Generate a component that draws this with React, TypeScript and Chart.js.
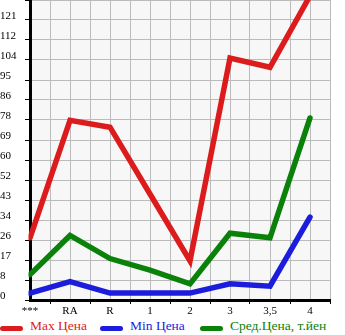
import React, { useEffect, useRef } from "react";
import { Chart, registerables } from "chart.js";

Chart.register(...registerables);

const categories = ["***", "RA", "R", "1", "2", "3", "3,5", "4"];
const maxPrice = [27, 78, 75, 46, 17, 105, 101, 132];
const minPrice = [3, 8, 3, 3, 3, 7, 6, 36];
const avgPrice = [11, 28, 18, 13, 7, 29, 27, 79];
const yTickLabels = ["0", "8", "17", "26", "34", "43", "52", "60", "69", "78", "86", "95", "104", "112", "121"];
const yStep = 8.68;
const seriesNames = ["Max Цена", "Min Цена", "Сред.Цена, т.йен"];
const seriesColors = ["#dc1c1c", "#1c1cdc", "#0a820a"];
const seriesValues = [maxPrice, minPrice, avgPrice];

const FONT = "'Liberation Serif', 'Times New Roman', serif";

const bgPlugin = {
  id: "bgPlugin",
  beforeDraw(chart: any) {
    const { ctx, chartArea: a } = chart;
    ctx.save();
    ctx.fillStyle = "#ffffff";
    ctx.fillRect(0, 0, chart.width, chart.height);
    ctx.fillStyle = "#f7f7f7";
    ctx.fillRect(a.left, a.top, a.right - a.left, a.bottom - a.top);
    ctx.restore();
  },
};

export default function App() {
  const canvasRef = useRef<HTMLCanvasElement | null>(null);

  useEffect(() => {
    document.body.style.margin = "0";
    const canvas = canvasRef.current;
    if (!canvas) return;
    const datasets = seriesValues.map((vals, si) => ({
      label: seriesNames[si],
      data: vals.map((v, i) => ({ x: i, y: v })),
      borderColor: seriesColors[si],
      backgroundColor: seriesColors[si],
      borderWidth: 5.5,
      borderCapStyle: "round" as const,
      pointRadius: 0,
      pointHoverRadius: 0,
      tension: 0,
      fill: false,
      clip: { left: 1.5, top: 0, right: 5, bottom: 5 },
    }));
    const chart = new Chart(canvas, {
      type: "line",
      data: { datasets: datasets.slice().reverse() as any },
      plugins: [bgPlugin],
      options: {
        animation: false,
        responsive: false,
        maintainAspectRatio: false,
        events: [],
        layout: { padding: { left: 0, right: 15, top: 0, bottom: 0 } },
        plugins: { legend: { display: false }, tooltip: { enabled: false } },
        scales: {
          x: {
            type: "linear",
            min: 0,
            max: categories.length - 0.5,
            afterBuildTicks: (s: any) => {
              const t: any[] = [];
              for (let i = 0; i < categories.length * 2; i++) t.push({ value: i / 2 });
              s.ticks = t;
            },
            afterFit: (s: any) => {
              s.height = 18;
              s.paddingLeft = 0;
              s.paddingRight = 0;
            },
            grid: {
              color: "#bbbbbb",
              lineWidth: 1,
              drawTicks: true,
              tickLength: 4,
              tickWidth: 1,
              tickColor: (c: any) =>
                c.tick && c.tick.value % 1 !== 0 ? "#000000" : "rgba(0,0,0,0)",
            },
            border: { color: "#000000", width: 3 },
            ticks: {
              autoSkip: false,
              maxRotation: 0,
              minRotation: 0,
              padding: 1,
              color: "#000000",
              font: { family: FONT, size: 11 },
              callback: (v: any) => (Number.isInteger(v) ? categories[v] : ""),
            },
          },
          y: {
            type: "linear",
            min: 0,
            max: yTickLabels.length * yStep,
            afterBuildTicks: (s: any) => {
              const t: any[] = [];
              for (let i = 0; i <= yTickLabels.length; i++) t.push({ value: i * yStep });
              s.ticks = t;
            },
            afterFit: (s: any) => {
              s.width = 30;
              s.paddingTop = 0;
              s.paddingBottom = 0;
            },
            grid: {
              color: "#bbbbbb",
              lineWidth: 1,
              drawTicks: true,
              tickLength: 5,
              tickWidth: 1,
              tickColor: "#000000",
            },
            border: { color: "#000000", width: 3 },
            ticks: {
              autoSkip: false,
              crossAlign: "far",
              labelOffset: -4,
              padding: 2,
              color: "#000000",
              font: { family: FONT, size: 11 },
              callback: (_v: any, i: number) => yTickLabels[i] ?? "",
            },
          },
        },
      } as any,
    });
    return () => chart.destroy();
  }, []);

  return (
    <div style={{ position: "relative", width: 345, height: 335, background: "#fff", overflow: "hidden" }}>
      <canvas
        ref={canvasRef}
        width={345}
        height={318}
        style={{ position: "absolute", left: 0, top: 0, width: 345, height: 318 }}
      />
      {seriesNames.map((name, i) => (
        <div key={name} style={{ position: "absolute", left: i * 100, top: 318, width: 130, height: 17 }}>
          <span
            style={{
              position: "absolute",
              left: 0,
              top: 8,
              width: 23,
              height: 5,
              borderRadius: 2.5,
              background: seriesColors[i],
            }}
          />
          <span
            style={{
              position: "absolute",
              left: 30,
              top: 0,
              whiteSpace: "nowrap",
              fontFamily: FONT,
              fontSize: 13.5,
              lineHeight: "16px",
              color: seriesColors[i],
            }}
          >
            {name}
          </span>
        </div>
      ))}
    </div>
  );
}
